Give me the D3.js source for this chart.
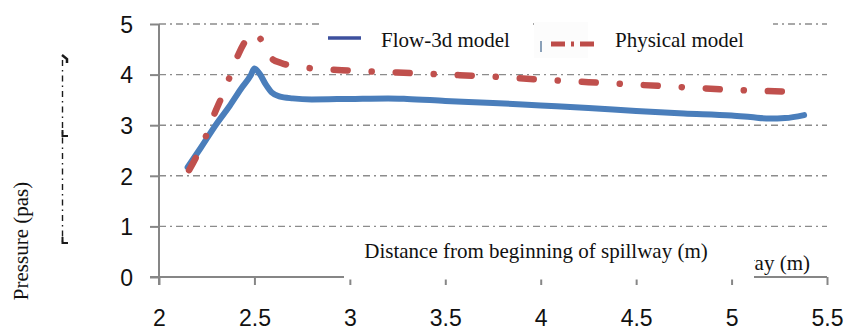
<!DOCTYPE html>
<html>
<head>
<meta charset="utf-8">
<script src="https://cdn.jsdelivr.net/npm/d3@7"></script>
<style>
  html, body { margin: 0; padding: 0; background: #fff; }
  svg { display: block; }
  .tick text { font-family: "Liberation Sans", Arial, sans-serif; font-size: 23px; fill: #111; }
  .serif { font-family: "Liberation Serif", "Times New Roman", serif; font-size: 21px; fill: #111; }
</style>
</head>
<body>
<div id="chart"></div>
<script>
(function() {
"use strict";

// values
var xTicks = [2, 2.5, 3, 3.5, 4, 4.5, 5, 5.5];
var yTicks = [0, 1, 2, 3, 4, 5];
var seriesNames = ["Flow-3d model", "Physical model"];
var xTitle = "Distance from beginning of spillway (m)";
var xTitleTail = "way (m)";
var yTitle = "Pressure (pas)";

var flowX = [2.15, 2.22, 2.30, 2.37, 2.43, 2.48, 2.50, 2.53, 2.56, 2.59, 2.63, 2.70, 2.80, 3.00, 3.20, 3.30, 3.50, 3.75, 4.00, 4.25, 4.50, 4.75, 5.00, 5.10, 5.20, 5.28, 5.38];
var flowY = [2.17, 2.56, 3.02, 3.38, 3.72, 3.98, 4.12, 4.00, 3.80, 3.65, 3.57, 3.53, 3.51, 3.52, 3.53, 3.52, 3.48, 3.44, 3.39, 3.34, 3.28, 3.23, 3.19, 3.16, 3.13, 3.14, 3.20];

var physX = [2.15, 2.20, 2.25, 2.29, 2.33, 2.37, 2.41, 2.45, 2.49, 2.52, 2.55, 2.59, 2.64, 2.74, 2.85, 3.00, 3.25, 3.50, 3.75, 4.00, 4.25, 4.50, 4.75, 5.00, 5.32];
var physY = [2.06, 2.41, 2.82, 3.22, 3.57, 3.95, 4.35, 4.65, 4.82, 4.76, 4.60, 4.32, 4.23, 4.15, 4.11, 4.08, 4.04, 4.00, 3.96, 3.90, 3.85, 3.80, 3.75, 3.70, 3.66];

var W = 847, H = 330;
var x = d3.scaleLinear().domain([2, 5.5]).range([159, 827]);
var y = d3.scaleLinear().domain([0, 5]).range([277, 24]);

var svg = d3.select("#chart").append("svg")
  .attr("width", W)
  .attr("height", H);

function zip(xs, ys) {
  var r = [];
  for (var i = 0, ii = xs.length; i < ii; i++) {
    r.push([xs[i], ys[i]]);
  }
  return r;
}

// only the tail of the first x title shows past the pasted box
svg.append("defs").append("clipPath")
  .attr("id", "oldTitleClip")
  .append("rect")
  .attr("x", 754).attr("y", 230).attr("width", 93).attr("height", 50);

// dash-dot gridlines
svg.append("g").selectAll("line")
  .data(yTicks.filter(function(d) { return d > 0; }))
  .enter()
  .append("line")
  .attr("x1", x(2))
  .attr("x2", x(5.5))
  .attr("y1", function(d) { return y(d); })
  .attr("y2", function(d) { return y(d); })
  .attr("stroke", "#8c8c8c")
  .attr("stroke-width", 1.4)
  .attr("stroke-dasharray", "7,4,2,4");

var line = d3.line()
  .x(function(d) { return x(d[0]); })
  .y(function(d) { return y(d[1]); })
  .curve(d3.curveMonotoneX);

svg.append("path")
  .datum(zip(flowX, flowY))
  .attr("d", line)
  .attr("fill", "none")
  .attr("stroke", "#4a7ebb")
  .attr("stroke-width", 6)
  .attr("stroke-linecap", "round")
  .attr("stroke-linejoin", "round");

svg.append("path")
  .datum(zip(physX, physY))
  .attr("d", line)
  .attr("fill", "none")
  .attr("stroke", "#c0504d")
  .attr("stroke-width", 6.5)
  .attr("stroke-linecap", "round")
  .attr("stroke-linejoin", "round")
  .attr("stroke-dasharray", "14,24,0.1,24")
  .attr("stroke-dashoffset", -3);

// legend, each entry sits on its own white patch
var legend = svg.append("g");
legend.append("rect").attr("x", 322).attr("y", 22).attr("width", 211).attr("height", 36).attr("fill", "#fff");
legend.append("rect").attr("x", 534).attr("y", 22).attr("width", 54).attr("height", 36).attr("fill", "#fcfcfc");
legend.append("rect").attr("x", 588).attr("y", 22).attr("width", 185).attr("height", 36).attr("fill", "#fff");
legend.append("line")
  .attr("x1", 328).attr("x2", 361).attr("y1", 38).attr("y2", 38)
  .attr("stroke", "#3d509e").attr("stroke-width", 3.5);
legend.append("text").attr("class", "serif")
  .attr("x", 381).attr("y", 47).text(seriesNames[0]);
legend.append("rect").attr("x", 540).attr("y", 41).attr("width", 2).attr("height", 11).attr("fill", "#8aa0b8");
legend.append("line")
  .attr("x1", 551).attr("x2", 595).attr("y1", 44).attr("y2", 44)
  .attr("stroke", "#bd4c49").attr("stroke-width", 5)
  .attr("stroke-dasharray", "14,6,3,6,14");
legend.append("text").attr("class", "serif")
  .attr("x", 615).attr("y", 47).text(seriesNames[1]);

// axes
var fmt = d3.format("~g");
var xAxis = d3.axisBottom(x).tickValues(xTicks).tickSize(8).tickSizeOuter(0).tickFormat(fmt);
var gx = svg.append("g").attr("transform", "translate(0," + y(0) + ")").call(xAxis);
gx.select(".domain").remove();
gx.selectAll(".tick line").attr("stroke", "#868686").attr("stroke-width", 2);
gx.selectAll(".tick text").attr("y", 49).attr("dy", null);

var yAxis = d3.axisLeft(y).tickValues(yTicks).tickSize(9).tickSizeOuter(0).tickFormat(fmt);
var gy = svg.append("g").attr("transform", "translate(" + x(2) + ",0)").call(yAxis);
gy.select(".domain").remove();
gy.selectAll(".tick line").attr("stroke", "#868686").attr("stroke-width", 2);
gy.selectAll(".tick text").attr("x", -26).attr("dy", "0.36em");

svg.append("line")
  .attr("x1", 150).attr("x2", x(5.5)).attr("y1", y(0)).attr("y2", y(0))
  .attr("stroke", "#868686").attr("stroke-width", 2);
svg.append("line")
  .attr("x1", x(2)).attr("x2", x(2)).attr("y1", y(5)).attr("y2", y(0) + 8)
  .attr("stroke", "#868686").attr("stroke-width", 2);

// tail of the original x title, the rest sits under the pasted box
svg.append("text").attr("class", "serif")
  .attr("x", 810).attr("y", 270)
  .attr("text-anchor", "end")
  .attr("clip-path", "url(#oldTitleClip)")
  .text(xTitleTail);
svg.append("rect")
  .attr("x", 344).attr("y", 236).attr("width", 410).attr("height", 43.5)
  .attr("fill", "#fff");
svg.append("text").attr("class", "serif")
  .attr("x", 536).attr("y", 258)
  .attr("text-anchor", "middle")
  .text(xTitle);

// y title and the leftover of the old one
svg.append("text").attr("class", "serif")
  .attr("transform", "translate(28,241) rotate(-90)")
  .attr("text-anchor", "middle")
  .text(yTitle);
var ghost = svg.append("g").attr("stroke", "#1a1a1a").attr("fill", "none");
ghost.append("line")
  .attr("x1", 62.5).attr("x2", 62.5).attr("y1", 60).attr("y2", 245)
  .attr("stroke-width", 1.4)
  .attr("stroke-dasharray", "6,4,1.5,4");
ghost.append("path").attr("d", "M62,55 L67,59 L67,63").attr("stroke-width", 2.5);
ghost.append("path").attr("d", "M62.5,130 L62.5,136 L68,136").attr("stroke-width", 2);
ghost.append("path").attr("d", "M62.5,237 L62.5,243 L68,243").attr("stroke-width", 2);

})();
</script>
</body>
</html>
